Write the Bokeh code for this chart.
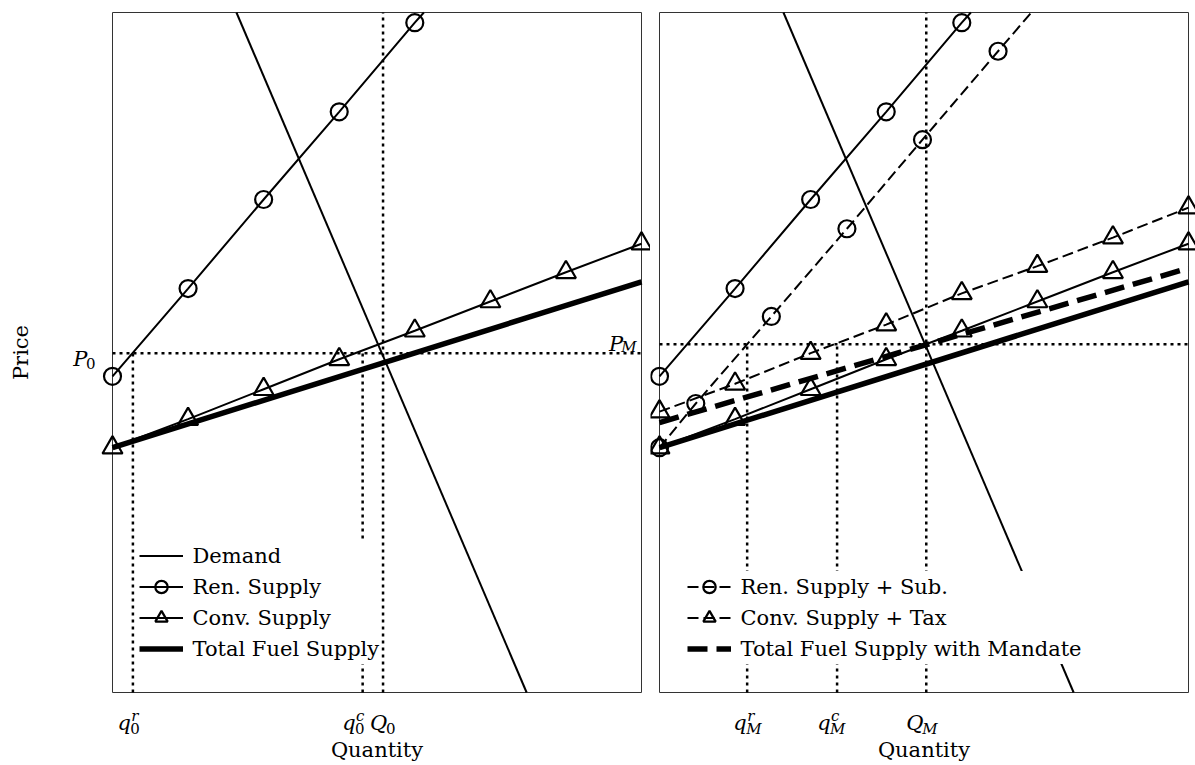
import math
from bokeh.plotting import figure
from bokeh.models import Range1d, Legend, LegendItem, Label
from bokeh.layouts import row
from bokeh.embed import file_html
from bokeh.resources import INLINE

# ---------------- data ----------------
x_lim = (0.0, 7.0)     # Quantity axis limits
y_lim = (0.0, 10.0)    # Price axis limits

demand_q = [1.64, 5.48]
demand_p = [10.0, 0.0]

ren_q = [0, 1, 2, 3, 4, 4.12]          # last point: where the curve leaves the plot
ren_p = [4.65, 5.94, 7.25, 8.54, 9.85, 10.0]
ren_marked = 5

conv_q = [0, 1, 2, 3, 4, 5, 6, 7]
conv_p = [3.60, 4.02, 4.46, 4.90, 5.32, 5.75, 6.18, 6.60]

total_q = [0, 7]
total_p = [3.60, 6.04]

sub_q = [0, 0.48, 1.48, 2.48, 3.48, 4.48, 4.92]
sub_p = [3.60, 4.25, 5.53, 6.82, 8.13, 9.43, 10.0]
sub_marked = 6

tax_q = [0, 1, 2, 3, 4, 5, 6, 7]
tax_p = [4.13, 4.54, 4.99, 5.41, 5.87, 6.27, 6.69, 7.13]

mandate_q = [0, 7]
mandate_p = [3.97, 6.24]

# equilibrium guides and their tick labels
p0 = 4.99
left_ticks = [0.27, 3.31, 3.58]
left_tick_base = ["q", "q", "Q"]
left_tick_sub = ["0", "0", "0"]
left_tick_sup = ["r", "c", ""]
left_tick_top = [p0, p0, y_lim[1]]

pm = 5.12
right_ticks = [1.16, 2.35, 3.53]
right_tick_base = ["q", "q", "Q"]
right_tick_sub = ["M", "M", "M"]
right_tick_sup = ["r", "c", ""]
right_tick_top = [pm, pm, y_lim[1]]

x_title = "Quantity"
y_title = "Price"

# ---------------- styling / layout ----------------
FONT = "DejaVu Serif"
BIG = 21
SMALL = 15
DRAW_W = 529          # px width of each axes box
DRAW_H = 680          # px height of each axes box
TOP = 12              # px from page top to axes box top
CANVAS_H = 765
BLACK = "black"
DOT = "3 4"
CW = {"q": 13.4, "Q": 16.5, "P": 14.3, "0": 9.5, "r": 7.2, "c": 8.4, "M": 14.4, "": 0}


def make_panel(canvas_w, box_left):
    """Canvas == frame; the axes box is drawn inside so texts around it stay visible."""
    sx = DRAW_W / (x_lim[1] - x_lim[0])
    sy = DRAW_H / (y_lim[1] - y_lim[0])
    box_right_pad = canvas_w - box_left - DRAW_W
    xr = Range1d(x_lim[0] - box_left / sx, x_lim[1] + box_right_pad / sx)
    yr = Range1d(y_lim[0] - (CANVAS_H - TOP - DRAW_H) / sy, y_lim[1] + TOP / sy)
    p = figure(frame_width=canvas_w, frame_height=CANVAS_H,
               x_range=xr, y_range=yr, output_backend="svg", toolbar_location=None,
               x_axis_type=None, y_axis_type=None,
               min_border_left=0, min_border_right=0,
               min_border_top=0, min_border_bottom=0)
    p.outline_line_color = None
    p.background_fill_color = "white"
    p.border_fill_color = "white"
    p.grid.visible = False
    # axes box
    p.quad(left=[x_lim[0]], right=[x_lim[1]], bottom=[y_lim[0]], top=[y_lim[1]],
           fill_color=None, line_color="#333333", line_width=1)
    return p


def series(p, q, pr, n_marked=None, marker=None, dash="solid", width=2.0, size=17):
    r_line = p.line(q, pr, line_color=BLACK, line_width=width, line_dash=dash)
    rs = [r_line]
    if marker:
        n = len(q) if n_marked is None else n_marked
        rs.append(p.scatter(q[:n], pr[:n], marker=marker, size=size,
                            line_color=BLACK, line_width=2.2, fill_color=None))
    return rs


def guides(p, ticks, tops, price):
    p.line([x_lim[0], x_lim[1]], [price, price], line_color=BLACK,
           line_width=2.5, line_dash=DOT)
    p.segment(x0=ticks, y0=[y_lim[0]] * len(ticks), x1=ticks, y1=tops,
              line_color=BLACK, line_width=2.5, line_dash=DOT)


def txt(p, x, y, text, ox, oy, size, italic, align="left", angle=0.0, baseline="alphabetic"):
    p.add_layout(Label(x=x, y=y, x_offset=ox, y_offset=oy, text=text, angle=angle,
                       text_font=FONT, text_font_size=f"{size}px",
                       text_font_style="italic" if italic else "normal",
                       text_color=BLACK, text_align=align, text_baseline=baseline))


def tick_labels(p, ticks, bases, subs, sups, nudges):
    for t, b, s, u, nd in zip(ticks, bases, subs, sups, nudges):
        bw = CW[b]
        tot = bw + max(CW[s], CW[u])
        left = nd - tot / 2
        txt(p, t, y_lim[0], b, left, -30, BIG, True)
        txt(p, t, y_lim[0], s, left + bw - 0.5, -36, SMALL, not s.isdigit())
        if u:
            txt(p, t, y_lim[0], u, left + bw + 0.5, -23, SMALL, True)


def x_axis_title(p):
    txt(p, (x_lim[0] + x_lim[1]) / 2, y_lim[0], x_title, 0, -57, BIG, False, "center")


def legend(p, items, x_off):
    lg = Legend(items=[LegendItem(label=l, renderers=r) for l, r in items],
                location=(x_off, 101), margin=0, padding=10, spacing=0,
                glyph_height=31, glyph_width=44, label_standoff=10, label_height=31,
                label_text_font=FONT, label_text_font_size=f"{BIG}px",
                label_text_color=BLACK, background_fill_color="white",
                background_fill_alpha=1.0, border_line_color=None)
    p.add_layout(lg)


# ---------------- left panel ----------------
left = make_panel(650, 112)
guides(left, left_ticks, left_tick_top, p0)
d_l = series(left, demand_q, demand_p)
r_l = series(left, ren_q, ren_p, ren_marked, "circle")
c_l = series(left, conv_q, conv_p, None, "triangle", size=20)
t_l = series(left, total_q, total_p, width=5.5)
legend(left, [("Demand", d_l), ("Ren. Supply", r_l), ("Conv. Supply", c_l),
              ("Total Fuel Supply", t_l)], 138.5)
tick_labels(left, left_ticks, left_tick_base, left_tick_sub, left_tick_sup, [-4, -9, 0])
x_axis_title(left)
txt(left, x_lim[0], (y_lim[0] + y_lim[1]) / 2, y_title, -92, 0, BIG, False,
    "center", math.pi / 2, "middle")
# P_0 (left price tick) and P_M (price tick of the right panel, it sits in this canvas)
txt(left, x_lim[0], p0, "0", -17, -10.3, SMALL, False, "right")
txt(left, x_lim[0], p0, "P", -25, -6.3, BIG, True, "right")
txt(left, x_lim[1], pm, "M", -5, -3, SMALL, True, "right")
txt(left, x_lim[1], pm, "P", -18.4, 0, BIG, True, "right")

# ---------------- right panel ----------------
right = make_panel(545, 9)
guides(right, right_ticks, right_tick_top, pm)
series(right, demand_q, demand_p)
series(right, ren_q, ren_p, ren_marked, "circle")
series(right, conv_q, conv_p, None, "triangle", size=20)
series(right, total_q, total_p, width=5.5)
s_r = series(right, sub_q, sub_p, sub_marked, "circle", dash="11 5")
x_r = series(right, tax_q, tax_p, None, "triangle", dash="11 5", size=20)
m_r = series(right, mandate_q, mandate_p, width=5.5, dash="20 9")
legend(right, [("Ren. Supply + Sub.", s_r), ("Conv. Supply + Tax", x_r),
               ("Total Fuel Supply with Mandate", m_r)], 36.5)
tick_labels(right, right_ticks, right_tick_base, right_tick_sub, right_tick_sup, [0, -6, -4.5])
x_axis_title(right)

layout = row(left, right)
open("out.html", "w").write(file_html(layout, INLINE))
